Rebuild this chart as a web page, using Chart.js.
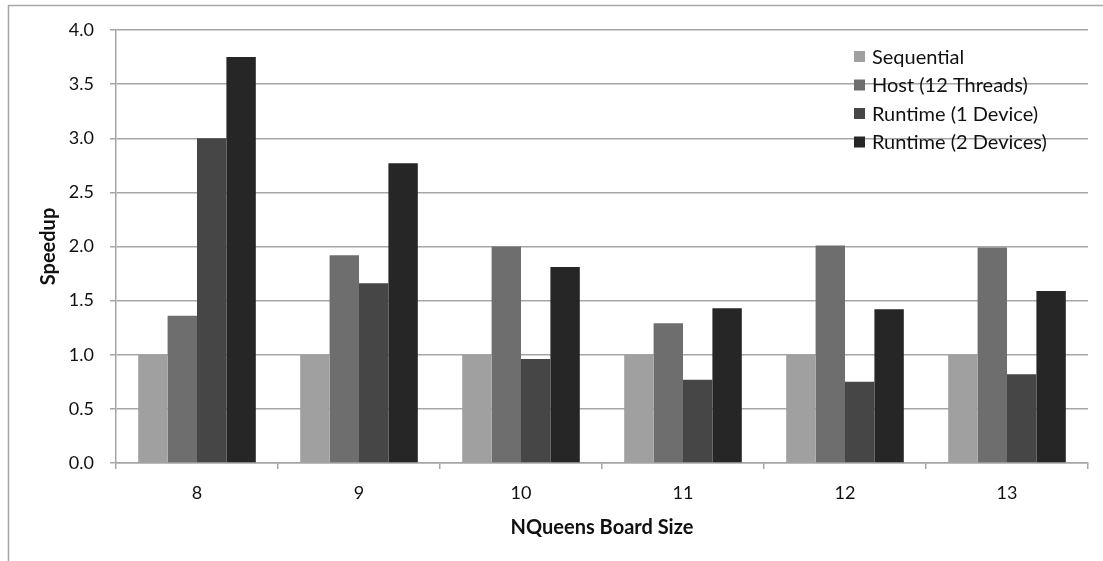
<!DOCTYPE html>
<html>
<head>
<meta charset="utf-8">
<script src="https://cdn.jsdelivr.net/npm/chart.js@4.4.1/dist/chart.umd.min.js"></script>
<style>
  html, body { margin: 0; padding: 0; background: #fff; }
  #wrap { width: 1103px; height: 561px; position: relative; }
</style>
</head>
<body>
<div id="wrap"><canvas id="speedChart"></canvas></div>
<script>
// board sizes on the x axis
const boardSizes = ["8", "9", "10", "11", "12", "13"];

// speedup per configuration
const sequential = [1.0, 1.0, 1.0, 1.0, 1.0, 1.0];
const host12 = [1.36, 1.92, 2.0, 1.29, 2.01, 1.99];
const runtime1 = [3.0, 1.66, 0.96, 0.77, 0.75, 0.82];
const runtime2 = [3.75, 2.77, 1.81, 1.43, 1.42, 1.59];

const seriesNames = ["Sequential", "Host (12 Threads)", "Runtime (1 Device)", "Runtime (2 Devices)"];
const seriesColors = ["#a0a0a0", "#6e6e6e", "#464646", "#262626"];

const gridColor = "#a6a6a6";
const fontName = "Lato, 'Liberation Sans', sans-serif";

// legend box sits inside the plot, top right
const insideLegend = {
  id: "insideLegend",
  afterDraw(chart) {
    const ctx = chart.ctx;
    ctx.save();
    ctx.font = "20px " + fontName;
    ctx.textBaseline = "middle";
    ctx.textAlign = "left";
    chart.data.datasets.forEach((ds, i) => {
      const y = 56.5 + i * 28.5;
      ctx.fillStyle = ds.backgroundColor;
      ctx.fillRect(854, y - 5.5, 11, 11);
      ctx.fillStyle = "#111";
      ctx.fillText(ds.label, 872, y + 1);
    });
    ctx.restore();
  }
};

// thin frame round the whole chart
const frame = {
  id: "frame",
  beforeDraw(chart) {
    const ctx = chart.ctx;
    ctx.save();
    ctx.strokeStyle = "#a6a6a6";
    ctx.lineWidth = 1.5;
    ctx.beginPath();
    ctx.moveTo(8.5, 600);
    ctx.lineTo(8.5, 5.5);
    ctx.lineTo(1103, 5.5);
    ctx.stroke();
    ctx.restore();
  }
};

const values = [sequential, host12, runtime1, runtime2];

new Chart(document.getElementById("speedChart"), {
  type: "bar",
  data: {
    labels: boardSizes,
    datasets: values.map((v, i) => ({
      label: seriesNames[i],
      data: v,
      backgroundColor: seriesColors[i],
      borderWidth: 0,
      categoryPercentage: 0.726,
      barPercentage: 1.0
    }))
  },
  options: {
    responsive: true,
    maintainAspectRatio: false,
    animation: false,
    layout: { padding: { top: 30, right: 15, left: 0, bottom: 0 } },
    plugins: {
      legend: { display: false },
      tooltip: { enabled: false }
    },
    scales: {
      x: {
        afterFit(scale) { scale.height = 98; },
        grid: {
          offset: true,
          drawOnChartArea: false,
          drawTicks: true,
          tickLength: 6,
          color: gridColor,
          lineWidth: 1.5
        },
        border: { color: gridColor, width: 1.5 },
        ticks: {
          color: "#111",
          font: { family: fontName, size: 18 },
          padding: 13
        },
        title: {
          display: true,
          text: "NQueens Board Size",
          color: "#111",
          font: { family: fontName, size: 20, weight: "bold" },
          padding: { bottom: 21 }
        }
      },
      y: {
        min: 0,
        max: 4,
        afterFit(scale) { scale.width = 116; },
        grid: {
          color: gridColor,
          lineWidth: 1.5,
          tickLength: 6
        },
        border: { color: gridColor, width: 1.5 },
        ticks: {
          stepSize: 0.5,
          color: "#111",
          font: { family: fontName, size: 18 },
          padding: 16,
          callback: (v) => v.toFixed(1)
        },
        title: {
          display: true,
          text: "Speedup",
          color: "#111",
          font: { family: fontName, size: 20, weight: "bold" },
          padding: { top: 37 }
        }
      }
    }
  },
  plugins: [frame, insideLegend]
});
</script>
</body>
</html>
